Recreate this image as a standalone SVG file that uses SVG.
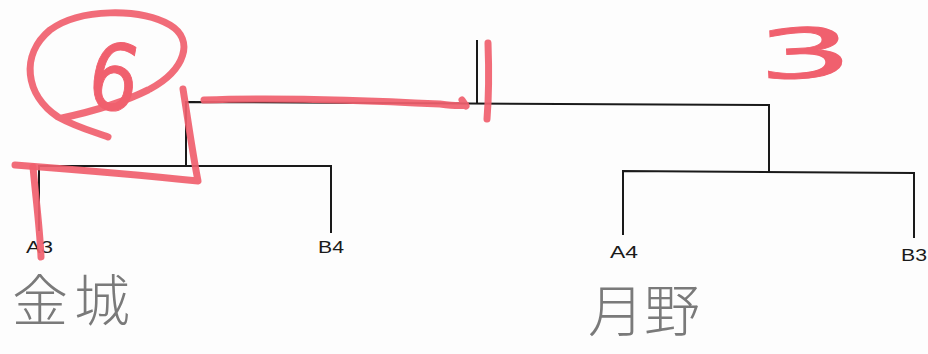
<svg xmlns="http://www.w3.org/2000/svg" width="928" height="354" viewBox="0 0 928 354">
<style>
.ln{fill:none;stroke:#1a1a1a;stroke-width:2;stroke-linejoin:miter}
.lb{font-family:"Liberation Sans",Arial,sans-serif;font-size:16px;fill:#1a1a1a}
.hw{font-family:"Noto Sans CJK JP","Noto Sans CJK SC",sans-serif;font-weight:300;fill:#7a7a7a}
.rd{fill:none;stroke:#f0606e;stroke-width:7;stroke-linecap:round;stroke-linejoin:round;opacity:0.92}
.rt{font-family:"DejaVu Sans","Liberation Sans",sans-serif;fill:#f0606e;stroke:#f0606e;stroke-width:1}
</style>
<rect width="928" height="354" fill="#fdfdfd"/>
<g id="connectors">
<path class="ln" d="M39,231 V166 H331 V233"/>
<path class="ln" d="M186,166 V102 L769,105 V172"/>
<path class="ln" d="M477,40 V103"/>
<path class="ln" d="M623,235 V171 L914,173 V238"/>
</g>
<g id="A3"><text class="lb" x="26" y="253" textLength="27" lengthAdjust="spacingAndGlyphs">A3</text></g>
<g id="B4"><text class="lb" x="318" y="253" textLength="26" lengthAdjust="spacingAndGlyphs">B4</text></g>
<g id="A4"><text class="lb" x="610" y="258" textLength="28" lengthAdjust="spacingAndGlyphs">A4</text></g>
<g id="B3"><text class="lb" x="901" y="261" textLength="26" lengthAdjust="spacingAndGlyphs">B3</text></g>
<g id="name-left"><text class="hw" x="12" y="321" font-size="56" letter-spacing="6">金城</text></g>
<g id="name-right"><text class="hw" x="588" y="331" font-size="56">月野</text></g>
<g id="marks">
<path class="rd" d="M148,90 C120,104 90,112 62,118 M150,89 C185,70 195,40 170,25 C140,8 80,8 50,30 C20,55 25,95 58,117 C78,128 98,133 108,137"/>
<text class="rt" x="0" y="0" font-size="92" transform="translate(84,105) rotate(10) scale(0.85,1)">6</text>
<text class="rt" x="0" y="0" font-size="72" transform="translate(758,80) rotate(-3) scale(2.1,0.95)">3</text>
<path class="rd" d="M204,100 C280,97 380,101 440,104 C455,106 462,106 466,105 M462,100 L466,106"/>
<path class="rd" d="M488,43 C489,70 489,95 487,119"/>
<path class="rd" d="M183,89 C188,120 192,150 198,181 C150,176 80,170 15,165"/>
<path class="rd" d="M33,167 C36,200 40,230 41,257"/>
</g>
</svg>
